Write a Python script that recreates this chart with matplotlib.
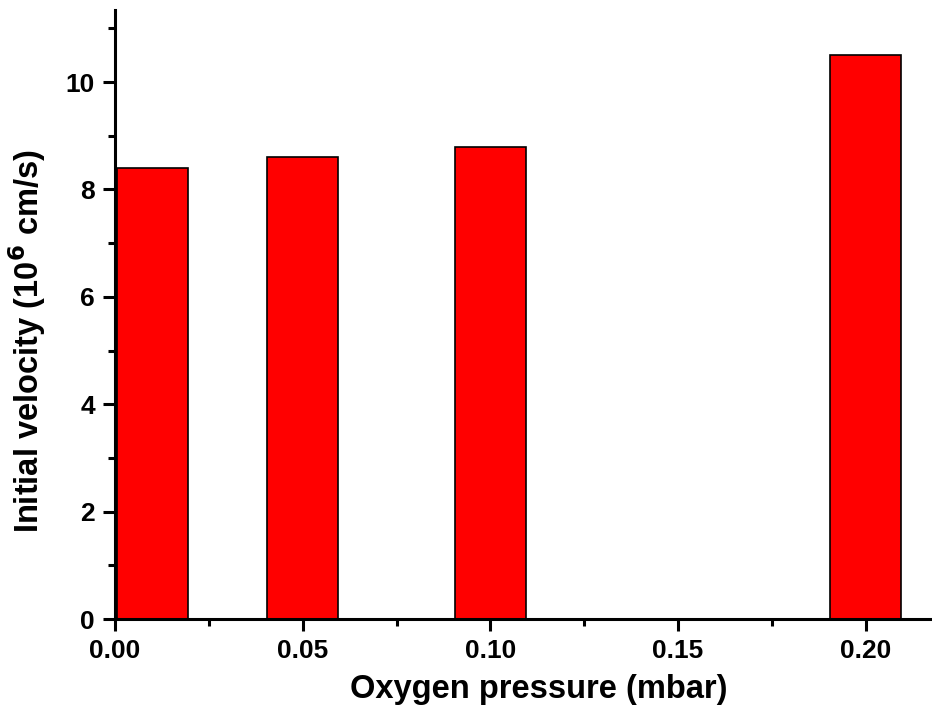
import matplotlib
matplotlib.use("Agg")
import matplotlib.pyplot as plt
from matplotlib.ticker import MultipleLocator

# oxygen pressure (mbar) and initial plume velocity (10^6 cm/s)
pressione = [0.01, 0.05, 0.10, 0.20]
velocita = [8.4, 8.6, 8.8, 10.5]
larghezza = 0.019

plt.rcParams["font.family"] = ["Liberation Sans", "DejaVu Sans"]
plt.rcParams["font.weight"] = "bold"

fig = plt.figure(figsize=(9.32, 7.24), dpi=100)
ax = fig.add_axes([0.1234, 0.145, 0.876, 0.841])

ax.bar(pressione, velocita, width=larghezza, color="#ff0000",
       edgecolor="black", linewidth=1.2, zorder=2)

ax.set_xlim(0, 0.2175)
ax.set_ylim(0, 11.34)
ax.xaxis.set_major_locator(MultipleLocator(0.05))
ax.xaxis.set_minor_locator(MultipleLocator(0.025))
ax.yaxis.set_major_locator(MultipleLocator(2))
ax.yaxis.set_minor_locator(MultipleLocator(1))
ax.xaxis.set_major_formatter(plt.FormatStrFormatter("%.2f"))

for lato in ["top", "right"]:
    ax.spines[lato].set_visible(False)
for lato in ["left", "bottom"]:
    ax.spines[lato].set_linewidth(2.2)

ax.tick_params(which="major", direction="out", length=8.5, width=2.2,
               labelsize=19, pad=6)
ax.tick_params(which="minor", direction="out", length=5, width=2.2)

ax.set_xlabel("Oxygen pressure (mbar)", fontsize=23.5, fontweight="bold")
ax.set_ylabel("Initial velocity (10$^{\\mathbf{6}}$ cm/s)", fontsize=23.5,
              fontweight="bold")
# etichette leggermente spostate come nel grafico originale di Origin
ax.xaxis.set_label_coords(0.519, -0.091)
ax.yaxis.set_label_coords(-0.082, 0.457)

plt.savefig("out.png", dpi=100)
